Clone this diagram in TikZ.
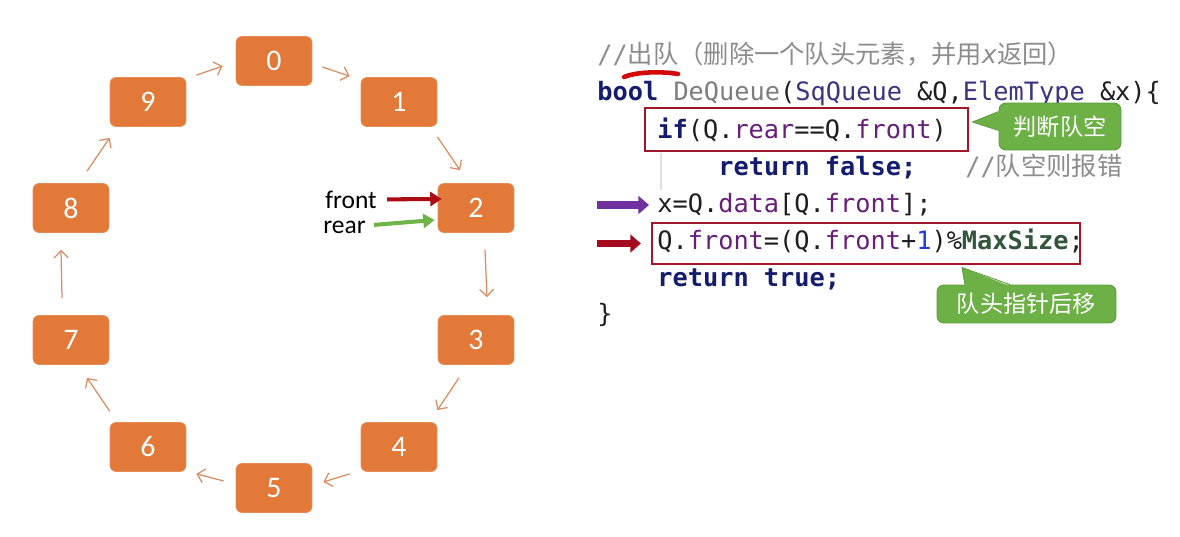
\documentclass[tikz,border=0pt]{standalone}
\usepackage{fontspec}
\setmainfont{Carlito}
\setmonofont{DejaVu Sans Mono}
\newfontfamily\cjk{Noto Sans CJK SC}
\usetikzlibrary{arrows.meta}
\definecolor{boxor}{RGB}{226,121,57}
\definecolor{ringc}{RGB}{218,140,96}
\definecolor{framec}{RGB}{160,24,42}
\definecolor{callg}{RGB}{108,176,70}
\definecolor{callb}{RGB}{92,156,58}
\definecolor{cmt}{RGB}{140,140,140}
\definecolor{kw}{RGB}{20,28,110}
\definecolor{fn}{RGB}{125,125,125}
\definecolor{ty}{RGB}{58,52,128}
\definecolor{fld}{RGB}{102,30,120}
\definecolor{num}{RGB}{30,60,215}
\definecolor{cst}{RGB}{50,85,60}
\definecolor{codeblk}{RGB}{30,30,30}
\definecolor{frontred}{RGB}{170,12,22}
\definecolor{reargreen}{RGB}{112,180,72}
\definecolor{purp}{RGB}{112,48,160}
\definecolor{dred}{RGB}{165,10,30}
\definecolor{ulred}{RGB}{210,10,10}
\begin{document}
\begin{tikzpicture}[x=0.02cm,y=-0.02cm,
  qbox/.style={draw=boxor!85!white,fill=boxor,rounded corners=0.12cm,minimum width=1.52cm,minimum height=0.98cm,text=white,font=\fontsize{17}{19}\selectfont,inner sep=0},
  ring/.style={draw=ringc,line width=0.7pt,-{Straight Barb[length=4pt,width=8pt]}},
  code/.style={anchor=base west,inner sep=0,text=codeblk,font=\ttfamily\fontsize{14.4}{17}\selectfont},
  lbl/.style={anchor=base west,inner sep=0,font=\fontsize{14.5}{17}\selectfont},
  frame/.style={draw=framec,line width=1.3pt,inner sep=0},
  callout/.style={fill=callg,draw=callb,line width=0.5pt,rounded corners=0.14cm,text=white,font=\cjk\fontsize{13.2}{15}\selectfont,inner sep=0},
  fat/.style={line width=4pt,-{Triangle[length=6pt,width=10pt]}}
]
\useasboundingbox (0,0) rectangle (1180,537);
% ring of boxes
\node[qbox] (n0) at (274,61) {0};
\node[qbox] (n1) at (399,102) {1};
\node[qbox] (n2) at (476,208) {2};
\node[qbox] (n3) at (476,340) {3};
\node[qbox] (n4) at (399,447) {4};
\node[qbox] (n5) at (274,488) {5};
\node[qbox] (n6) at (148,447) {6};
\node[qbox] (n7) at (71,340) {7};
\node[qbox] (n8) at (71,208) {8};
\node[qbox] (n9) at (148,102) {9};
% ring arrows
\draw[ring] ([shift={(10,-2)}]n9.north east) -- ([shift={(-13,5)}]n0.west);
\draw[ring] ([shift={(10,6)}]n0.east) -- ([shift={(-11,-1)}]n1.north west);
\draw[ring] ([shift={(0,10)}]n1.south east) -- ([shift={(-16,-13)}]n2.north);
\draw[ring] ([shift={(9,17)}]n2.south) -- ([shift={(11,-18)}]n3.north);
\draw[ring] ([shift={(-17,13)}]n3.south) -- ([shift={(0,-12)}]n4.north east);
\draw[ring] ([shift={(-11,2)}]n4.south west) -- ([shift={(11,-6)}]n5.east);
\draw[ring] ([shift={(-12,-7)}]n5.west) -- ([shift={(10,2)}]n6.south east);
\draw[ring] ([shift={(0,-11)}]n6.north west) -- ([shift={(16,13)}]n7.south);
\draw[ring] ([shift={(-9,-17)}]n7.north) -- ([shift={(-10,17)}]n8.south);
\draw[ring] ([shift={(16,-12)}]n8.north) -- ([shift={(0,11)}]n9.south west);
% front / rear
\node[lbl] (front) at (325,208) {front};
\node[lbl] (rear) at (323,233) {rear};
\draw[draw=frontred,line width=2.3pt,-{Triangle[length=6.5pt,width=8pt]}] ([shift={(10,0)}]front.east) -- ([shift={(4,-9)}]n2.west);
\draw[draw=reargreen,line width=2.3pt,-{Triangle[length=6.5pt,width=8pt]}] ([shift={(8,-2)}]rear.east) -- ([shift={(-3,12)}]n2.west);
% code
\draw[ulred,line width=2.6pt,line cap=round] (624,77) .. controls (636,72) and (660,71) .. (678,74);
\node[code,text=cmt] (l1) at (597,64) {//{\cjk 出队（删除一个队头元素，并用}{\itshape x}{\cjk 返回）}};
\node[code] (l2) at (597,101) {{\bfseries\color{kw}bool} {\color{fn}DeQueue}(\textcolor{ty}{SqQueue} \&Q,\textcolor{ty}{ElemType} \&x)\{};
\draw[black!12,line width=0.6pt] (661,153) -- (661,190);
\node[code] (l3) at (657,138) {\textcolor{kw}{\bfseries if}(Q.\textcolor{fld}{rear}==Q.\textcolor{fld}{front})};
\node[code] (l4) at (718,175) {\textcolor{kw}{\bfseries return false;}};
\node[code,text=cmt] (l4c) at (965,175) {//{\cjk 队空则报错}};
\node[code] (l5) at (657,212) {x=Q.\textcolor{fld}{data}[Q.\textcolor{fld}{front}];};
\node[code] (l6) at (657,249) {Q.\textcolor{fld}{front}=(Q.\textcolor{fld}{front}+\textcolor{num}{1})\%\textcolor{cst}{\bfseries MaxSize};};
\node[code] (l7) at (657,286) {\textcolor{kw}{\bfseries return true;}};
\node[code] (l8) at (597,322) {\}};
% frames
\node[frame,minimum width=6.46cm,minimum height=0.86cm] (b1) at (806.5,129.5) {};
\node[frame,minimum width=8.56cm,minimum height=0.82cm] (b2) at (866,243.5) {};
% code arrows
\coordinate (pa) at (597,205);
\draw[fat,draw=purp] (pa) -- ([shift={(-8,0)}]l5.west |- pa);
\coordinate (ra) at (597,243.5);
\draw[fat,draw=dred] (ra) -- ([shift={(-10,0)}]b2.west);
% callouts
\node[callout,minimum width=2.44cm,minimum height=0.94cm] (c1) at (1060,126.5) {判断队空};
\fill[callg] ([shift={(1.5,-15)}]c1.west) -- ([shift={(-26,-4.5)}]c1.west) -- ([shift={(1.5,4)}]c1.west) -- cycle;
\draw[callb,line width=0.5pt] ([shift={(0,-15)}]c1.west) -- ([shift={(-26,-4.5)}]c1.west) -- ([shift={(0,4)}]c1.west);
\node[callout,minimum width=3.58cm,minimum height=0.76cm] (c2) at (1026.5,304) {队头指针后移};
\fill[callg] ([shift={(-61.5,1.5)}]c2.north) -- ([shift={(-64.5,-17)}]c2.north) -- ([shift={(-16.5,1.5)}]c2.north) -- cycle;
\draw[callb,line width=0.5pt] ([shift={(-61.5,0)}]c2.north) -- ([shift={(-64.5,-17)}]c2.north) -- ([shift={(-16.5,0)}]c2.north);
\end{tikzpicture}
\end{document}
